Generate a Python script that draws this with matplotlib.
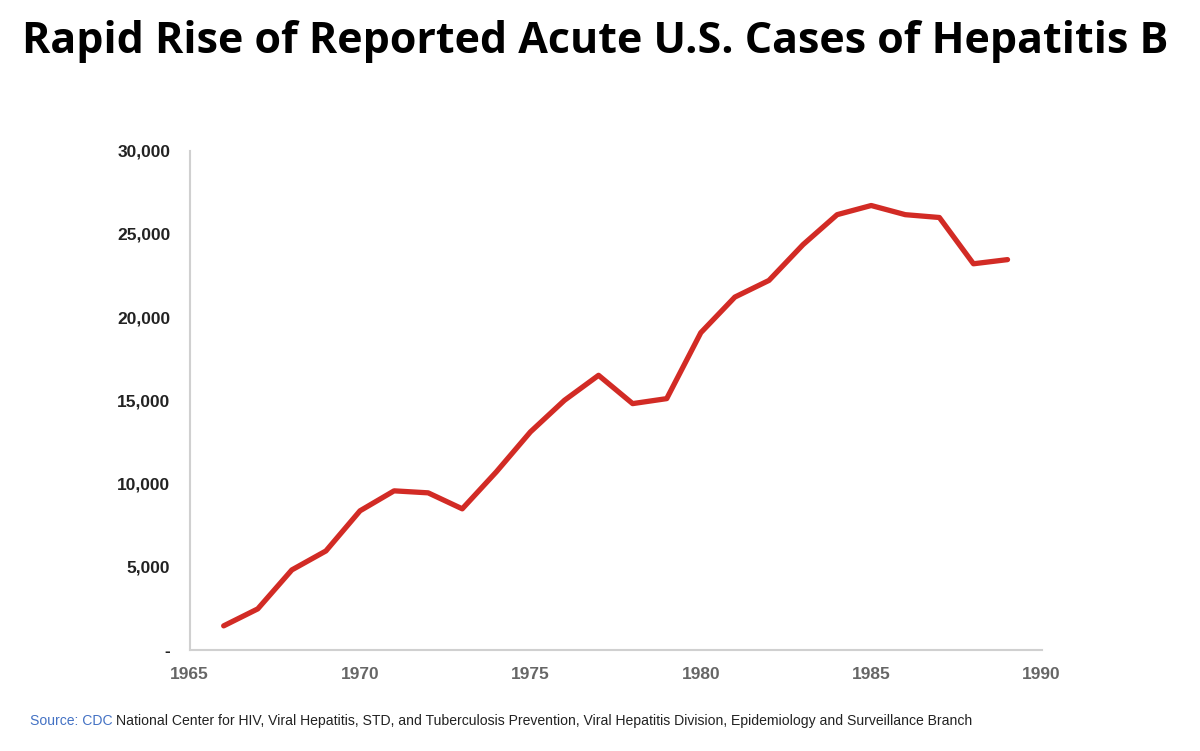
import matplotlib.pyplot as plt
from matplotlib.ticker import FuncFormatter

# Reported acute hepatitis B cases, US
years = list(range(1966, 1990))
cases = [1450, 2470, 4810, 5950, 8360, 9560, 9440, 8480, 10700, 13100,
         15000, 16500, 14800, 15100, 19060, 21200, 22200, 24350, 26150, 26700,
         26150, 25980, 23200, 23450]

x_ticks = [1965, 1970, 1975, 1980, 1985, 1990]
y_ticks = [0, 5000, 10000, 15000, 20000, 25000, 30000]

fig = plt.figure(figsize=(12, 7.51), dpi=100)
ax = fig.add_axes([0.158, 0.1345, 0.71, 0.665])

ax.plot(years, cases, color='#D22B25', linewidth=3.8, solid_capstyle='round',
        solid_joinstyle='round')

ax.set_xlim(1965, 1990)
ax.set_ylim(0, 30000)
ax.set_xticks(x_ticks)
ax.set_yticks(y_ticks)
ax.yaxis.set_major_formatter(FuncFormatter(lambda v, p: '-' if v == 0 else f'{int(v):,}'))

for s in ['top', 'right']:
    ax.spines[s].set_visible(False)
for s in ['left', 'bottom']:
    ax.spines[s].set_color('#D0D0D0')
    ax.spines[s].set_linewidth(1.5)

ax.tick_params(axis='both', length=0)
ax.tick_params(axis='y', pad=14, labelsize=12.5, labelcolor='#222222')
ax.tick_params(axis='x', pad=12, labelsize=12.5, labelcolor='#666666')
for lbl in ax.get_yticklabels() + ax.get_xticklabels():
    lbl.set_fontfamily('Liberation Sans')
    lbl.set_fontweight('bold')

fig.text(0.496, 0.945, 'Rapid Rise of Reported Acute U.S. Cases of Hepatitis B',
         ha='center', va='center', fontsize=31, fontweight='bold',
         family=['Open Sans', 'DejaVu Sans'], color='black')

# source line, two colours
src1 = fig.text(0.025, 0.040, 'Source: CDC', ha='left', va='center', fontsize=10.1,
                family=['Liberation Sans Narrow', 'Liberation Sans'], color='#4472C4')
fig.canvas.draw()
bb = src1.get_window_extent()
fig.text((bb.x1 + 3) / fig.bbox.width, 0.040,
         'National Center for HIV, Viral Hepatitis, STD, and Tuberculosis Prevention, '
         'Viral Hepatitis Division, Epidemiology and Surveillance Branch',
         ha='left', va='center', fontsize=10.1,
         family=['Liberation Sans Narrow', 'Liberation Sans'], color='#222222')

fig.savefig('out.png', dpi=100)
